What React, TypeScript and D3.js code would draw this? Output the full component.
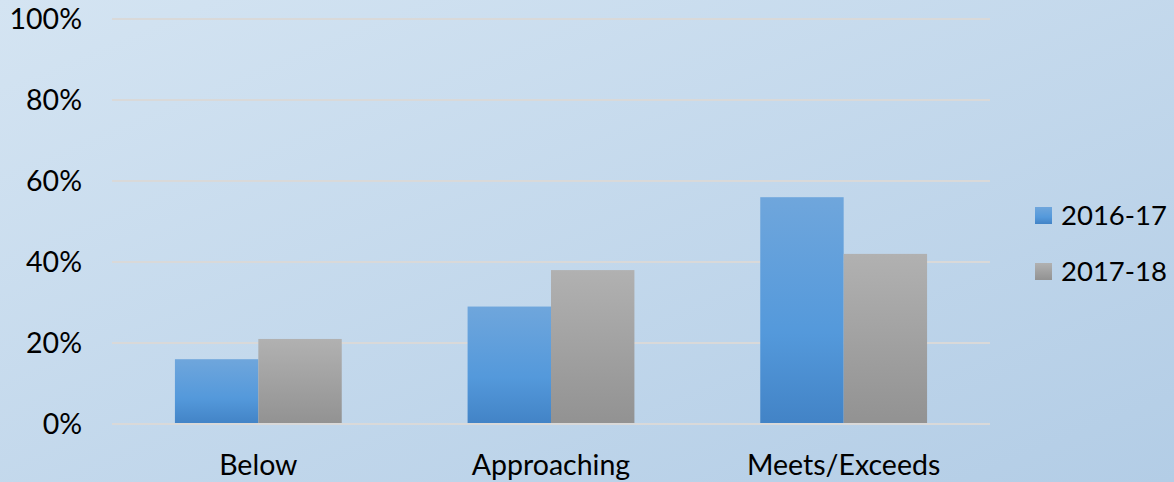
import React from "react";
import * as d3 from "d3";

const categories = ["Below", "Approaching", "Meets/Exceeds"];
const seriesNames = ["2016-17", "2017-18"];
const values2016 = [16, 29, 56];
const values2017 = [21, 38, 42];
const yTicks = [0, 20, 40, 60, 80, 100];

const W = 1174;
const H = 482;
const margin = { left: 112, right: 184, top: 19, bottom: 58 };
const FONT = "Lato, 'Open Sans', 'Liberation Sans', sans-serif";
const FS = 28.5;

export default function App() {
  const x = d3
    .scaleBand<string>()
    .domain(categories)
    .range([margin.left, W - margin.right])
    .paddingInner(0.43)
    .paddingOuter(0.215);
  const xs = d3.scaleBand<string>().domain(seriesNames).range([0, x.bandwidth()]);
  const y = d3.scaleLinear().domain([0, 100]).range([H - margin.bottom, margin.top]);
  const series = [
    { name: seriesNames[0], values: values2016, fill: "url(#gBlue)" },
    { name: seriesNames[1], values: values2017, fill: "url(#gGray)" },
  ];

  return (
    <svg width={W} height={H} style={{ position: "absolute", left: 0, top: 0, display: "block" }}>
      <defs>
        <linearGradient id="bg" x1="0" y1="0" x2="1" y2="1">
          <stop offset="0%" stopColor="#d4e4f2" />
          <stop offset="100%" stopColor="#b3cde6" />
        </linearGradient>
        <linearGradient id="gBlue" x1="0" y1="0" x2="0" y2="1">
          <stop offset="0%" stopColor="#6fa6dc" />
          <stop offset="60%" stopColor="#5499db" />
          <stop offset="100%" stopColor="#4283c6" />
        </linearGradient>
        <linearGradient id="gGray" x1="0" y1="0" x2="0" y2="1">
          <stop offset="0%" stopColor="#b1b1b1" />
          <stop offset="100%" stopColor="#929292" />
        </linearGradient>
      </defs>
      <rect x={0} y={0} width={W} height={H} fill="url(#bg)" />
      {yTicks.map((t) => (
        <g key={t}>
          <line
            x1={margin.left}
            x2={W - margin.right}
            y1={y(t)}
            y2={y(t)}
            stroke="#d9d9d9"
            strokeWidth={2}
          />
          <text
            x={82}
            y={y(t)}
            dy="0.35em"
            textAnchor="end"
            fontFamily={FONT}
            fontSize={FS}
            fill="#000"
          >
            {t}%
          </text>
        </g>
      ))}
      {series.map((s) => (
        <g key={s.name}>
          {categories.map((c, i) => (
            <rect
              key={c}
              x={(x(c) ?? 0) + (xs(s.name) ?? 0)}
              y={y(s.values[i])}
              width={xs.bandwidth()}
              height={y(0) - y(s.values[i])}
              fill={s.fill}
            />
          ))}
        </g>
      ))}
      <line
        x1={margin.left}
        x2={W - margin.right}
        y1={y(0)}
        y2={y(0)}
        stroke="#d9d9d9"
        strokeWidth={2}
      />
      {categories.map((c) => (
        <text
          key={c}
          x={(x(c) ?? 0) + x.bandwidth() / 2}
          y={465}
          dy="0.35em"
          textAnchor="middle"
          fontFamily={FONT}
          fontSize={FS}
          fill="#000"
        >
          {c}
        </text>
      ))}
      {series.map((s, i) => (
        <g key={s.name} transform={`translate(1035, ${215 + i * 56})`}>
          <rect x={0} y={-8} width={17} height={17} fill={s.fill} />
          <text x={26} y={0} dy="0.35em" fontFamily={FONT} fontSize={27.5} fill="#000">
            {s.name}
          </text>
        </g>
      ))}
    </svg>
  );
}
